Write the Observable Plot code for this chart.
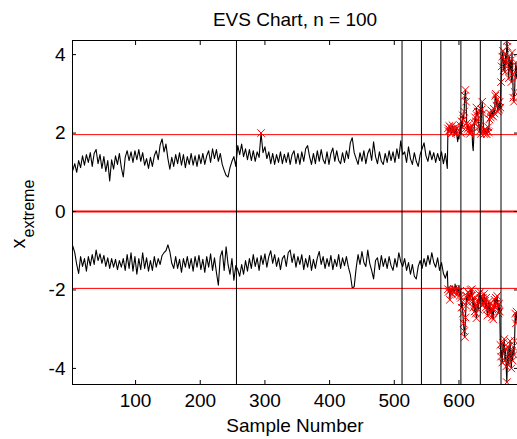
<!DOCTYPE html>
<html><head><meta charset="utf-8">
<script src="https://cdn.jsdelivr.net/npm/d3@7"></script>
<script src="https://cdn.jsdelivr.net/npm/@observablehq/plot@0.6"></script>
<style>body{margin:0;background:#fff;}</style>
</head><body><div id="chart"></div>
<script>
const title = "EVS Chart, n = 100";
const xLabel = "Sample Number";
const yLabelMain = "x";
const yLabelSub = "extreme";

// samples 3..582, read every 3rd sample
const headStart = 3;
const headStep = 3;
const headUpper = [
1.05,1.22,1.00,1.30,1.12,1.42,1.18,1.45,1.25,1.50,
1.15,1.48,1.58,1.22,1.45,1.10,1.40,1.02,1.30,0.78,
1.32,1.08,1.42,1.20,1.48,1.12,0.88,1.38,1.55,1.30,
1.52,1.25,1.55,1.32,1.58,1.28,1.50,1.18,1.35,1.10,
1.38,1.15,1.42,1.55,1.32,1.70,1.85,1.52,1.72,1.35,
1.08,1.38,1.15,1.45,1.22,1.50,1.18,1.45,1.12,1.40,
1.20,1.48,1.18,1.42,1.15,1.45,1.22,1.48,1.20,1.42,
1.55,1.25,1.60,1.35,1.58,1.28,1.48,1.20,1.05,0.92,
0.88,1.12,1.28,1.40,1.15,1.68,1.45,1.72,1.40,1.60,
1.32,1.58,1.30,1.55,1.28,1.52,1.38,2.00,1.50,1.65,
1.35,1.52,1.22,1.48,1.20,1.45,1.25,1.52,1.22,1.46,
1.25,1.50,1.20,1.45,1.55,1.22,1.48,1.20,1.52,1.28,
1.60,1.68,1.40,1.20,1.48,1.22,1.55,1.28,1.58,1.32,
1.22,1.52,1.20,1.48,1.62,1.28,1.55,1.30,1.22,1.50,
1.25,1.55,1.35,1.75,1.88,1.50,1.35,1.20,1.50,1.28,
1.55,1.22,1.48,1.60,1.30,1.78,1.40,1.22,1.52,1.28,
1.20,1.48,1.25,1.55,1.30,1.52,1.25,1.60,1.35,1.80,
1.45,1.52,1.25,1.65,1.35,1.20,1.50,1.28,1.15,1.45,
1.60,1.75,1.42,1.28,1.55,1.32,1.50,1.25,1.48,1.30,
1.52,1.22,1.48,1.10
];
const headLower = [
-0.88,-1.05,-1.35,-1.58,-1.15,-1.40,-1.20,-1.52,-1.15,-1.38,
-1.10,-1.35,-0.98,-1.25,-1.08,-1.32,-1.12,-1.40,-1.18,-1.45,
-1.20,-1.42,-1.22,-1.48,-1.25,-1.42,-1.20,-1.50,-1.10,-1.45,
-1.05,-1.52,-1.15,-1.60,-1.20,-1.48,-1.05,-1.45,-1.18,-1.52,
-1.25,-1.50,-1.15,-1.42,-1.20,-1.35,-1.12,-1.05,-1.00,-0.85,
-1.02,-1.32,-1.45,-1.15,-1.45,-1.22,-1.55,-1.20,-1.42,-1.15,
-1.45,-1.20,-1.52,-1.15,-1.42,-1.12,-1.48,-1.22,-1.55,-1.15,
-1.42,-1.08,-1.50,-1.18,-1.55,-1.88,-1.15,-1.00,-1.50,-0.90,
-1.35,-1.60,-1.20,-1.75,-1.38,-1.48,-1.65,-1.35,-1.60,-1.25,
-1.52,-1.20,-1.45,-1.10,-1.40,-1.18,-1.50,-1.12,-1.35,-1.08,
-1.42,-1.15,-1.00,-1.32,-1.10,-1.40,-1.18,-1.48,-1.20,-1.12,
-1.40,-1.05,-0.98,-1.30,-1.08,-1.42,-1.15,-1.35,-1.10,-1.48,
-1.20,-1.42,-1.12,-1.50,-1.22,-1.45,-1.18,-1.02,-1.35,-1.15,
-1.45,-1.20,-1.40,-1.12,-1.48,-1.22,-1.40,-1.10,-1.45,-1.18,
-1.38,-1.15,-1.42,-1.60,-1.95,-1.92,-1.45,-1.10,-1.35,-1.02,
-1.30,-1.40,-0.98,-1.32,-1.50,-1.72,-1.25,-1.18,-1.48,-1.12,
-1.40,-1.20,-1.45,-1.15,-1.38,-1.50,-1.20,-1.42,-1.05,-1.28,
-1.40,-1.20,-1.50,-1.30,-1.60,-1.35,-1.65,-1.72,-1.40,-1.25,
-1.45,-1.20,-1.40,-1.12,-1.35,-1.05,-1.30,-1.42,-1.18,-1.50,
-1.30,-1.58,-1.70,-1.52
];

// samples 583..690, every sample
const tailStart = 583;
const tailUpper = [
2.12,2.05,2.18,2.08,2.15,1.98,2.10,2.20,2.02,2.12,
1.94,2.08,2.00,2.15,1.90,1.78,1.95,1.85,2.05,2.20,
2.00,2.30,2.15,2.45,2.35,2.55,2.95,3.10,2.80,2.25,
2.10,2.20,2.05,2.15,1.98,2.12,2.05,2.18,1.70,1.55,
1.90,2.25,2.40,2.30,2.65,2.45,2.55,2.30,2.15,2.05,
2.20,1.98,2.60,2.80,2.50,2.05,1.98,2.10,2.00,2.08,
1.97,2.05,2.15,2.02,2.35,2.50,2.40,2.58,2.45,2.55,
2.42,2.62,2.50,2.95,3.00,2.70,2.85,2.55,2.75,2.60,
2.80,2.65,3.30,3.70,3.95,4.10,3.60,3.85,3.55,4.00,
3.75,4.35,4.20,3.80,3.40,3.95,3.60,3.85,3.30,4.05,
3.50,2.90,2.80,3.05,3.55,3.80,3.40,3.70
];
const tailLower = [
-1.98,-2.05,-1.92,-2.25,-2.00,-1.95,-2.10,-1.90,-2.02,-1.97,
-2.08,-1.85,-2.00,-1.90,-2.12,-1.95,-2.05,-1.88,-2.15,-2.02,
-2.20,-2.45,-2.30,-2.60,-2.85,-3.05,-3.20,-2.70,-2.40,-2.15,
-2.30,-2.05,-2.25,-2.10,-2.20,-2.00,-2.15,-1.98,-2.30,-2.45,
-2.20,-2.55,-2.35,-2.60,-2.72,-2.40,-2.25,-2.50,-2.10,-2.30,
-2.05,-2.25,-2.15,-2.40,-2.20,-2.35,-2.10,-2.28,-2.45,-2.20,
-2.50,-2.65,-2.40,-2.30,-2.55,-2.35,-2.60,-2.45,-2.70,-2.50,
-2.75,-2.40,-2.25,-2.45,-2.20,-2.35,-2.15,-2.40,-2.60,-2.35,
-2.55,-3.40,-3.70,-3.55,-3.85,-3.35,-3.60,-3.25,-3.80,-3.50,
-3.95,-4.35,-3.75,-3.45,-3.90,-3.60,-3.30,-3.75,-4.00,-3.55,
-3.80,-3.45,-3.65,-3.30,-2.60,-2.85,-2.55,-2.75
];

const limit = 1.96;
const limitLines = [-limit, limit];
const centerLine = [0];
const changePoints = [256, 512, 542, 572, 603, 633, 665];
const xTicks = [100, 200, 300, 400, 500, 600];
const yTicks = [-4, -2, 0, 2, 4];
const xDomain = [2.5, 690.5];
const yDomain = [-4.41, 4.36];

const rows = [
  ...headUpper.map((u, i) => ({sample: headStart + i * headStep, upper: u, lower: headLower[i]})),
  ...tailUpper.map((u, i) => ({sample: tailStart + i, upper: u, lower: tailLower[i]}))
];
const upperOut = rows.filter(d => d.upper > limit);
const lowerOut = rows.filter(d => d.lower < -limit);

const font = "'Liberation Sans', Arial, Helvetica, sans-serif";
const red = "#ff0000";

const chart = Plot.plot({
  width: 517, height: 439,
  marginLeft: 72, marginRight: 0, marginTop: 40, marginBottom: 55,
  style: {fontFamily: font, fontSize: "19px", background: "#fff", color: "#000", overflow: "visible"},
  x: {domain: xDomain, axis: null},
  y: {domain: yDomain, axis: null},
  marks: [
    Plot.lineY(rows, {x: "sample", y: "upper", stroke: "#000", strokeWidth: 1.1, clip: true}),
    Plot.lineY(rows, {x: "sample", y: "lower", stroke: "#000", strokeWidth: 1.1, clip: true}),
    Plot.ruleY(limitLines, {stroke: red, strokeWidth: 1}),
    Plot.ruleY(centerLine, {stroke: red, strokeWidth: 2}),
    Plot.dot(upperOut, {x: "sample", y: "upper", symbol: "times", r: 3.5, stroke: red, strokeWidth: 1, clip: true}),
    Plot.dot(lowerOut, {x: "sample", y: "lower", symbol: "times", r: 3.5, stroke: red, strokeWidth: 1, clip: true}),
    Plot.ruleX(changePoints, {stroke: "#000", strokeWidth: 1}),
    Plot.ruleY([yDomain[1], yDomain[0]], {stroke: "#000", strokeWidth: 1}),
    Plot.ruleX([xDomain[0]], {stroke: "#000", strokeWidth: 1}),
    Plot.axisX(xTicks, {anchor: "bottom", tickSize: -4, fill: "none", label: null}),
    Plot.axisX(xTicks, {anchor: "top", tickSize: -4, fill: "none", label: null}),
    Plot.axisY(yTicks, {anchor: "left", tickSize: -4, fill: "none", label: null}),
    Plot.axisY(yTicks, {anchor: "right", tickSize: -4, fill: "none", label: null}),
    Plot.axisX(xTicks, {anchor: "bottom", tickSize: 0, tickPadding: 9, fontSize: 19, label: null}),
    Plot.axisY(yTicks, {anchor: "left", tickSize: 0, tickPadding: 7, fontSize: 19, label: null, tickFormat: d => String(d)}),
    Plot.text([title], {frameAnchor: "top", lineAnchor: "top", dy: -28, fontSize: 19}),
    Plot.text([xLabel], {frameAnchor: "bottom", lineAnchor: "top", dy: 34, fontSize: 19}),
    Plot.text([yLabelMain], {frameAnchor: "left", rotate: -90, textAnchor: "start", lineAnchor: "middle", dx: -54.4, dy: 36, fontSize: 20}),
    Plot.text([yLabelSub], {frameAnchor: "left", rotate: -90, textAnchor: "start", lineAnchor: "middle", dx: -44, dy: 25, fontSize: 16})
  ]
});
document.getElementById("chart").append(chart);
</script>
</body></html>
